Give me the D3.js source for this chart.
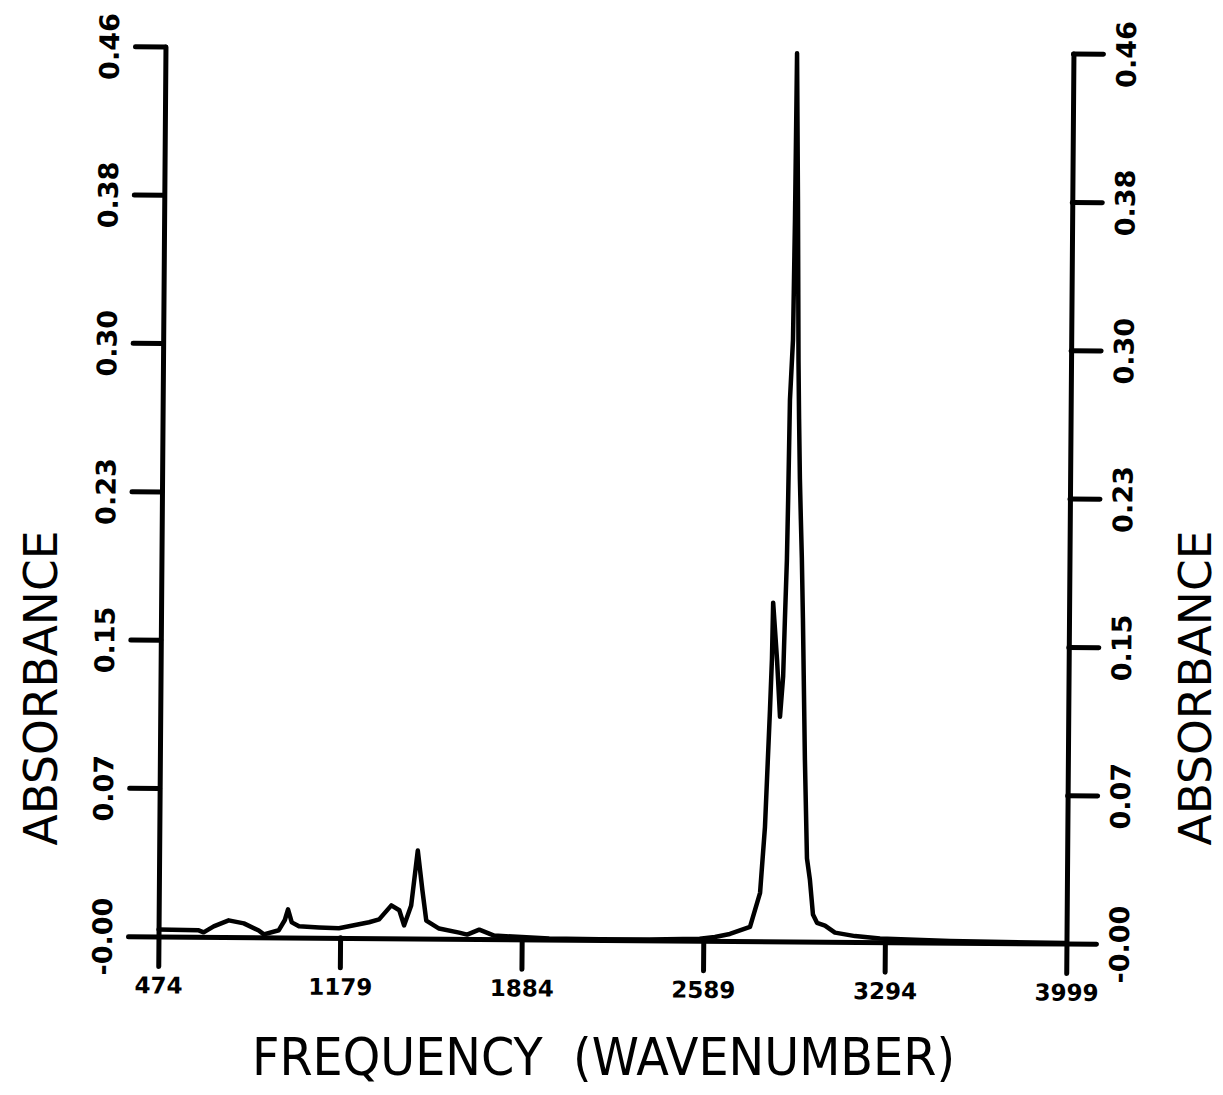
<!DOCTYPE html>
<html>
<head>
<meta charset="utf-8">
<script src="https://cdn.jsdelivr.net/npm/d3@7"></script>
<style>
body { margin: 0; background: #fff; }
text { font-family: "DejaVu Sans", sans-serif; fill: #000; }
</style>
</head>
<body>
<div id="spectrum"></div>
<script>
// spectrum
const wavenumber = [474, 630, 649, 688, 746, 805, 863, 883, 941, 964, 976, 991, 1019, 1097, 1174, 1213,
  1291, 1330, 1377, 1408, 1427, 1454, 1478, 1497, 1513, 1563, 1641, 1672, 1719, 1777, 1991, 2186,
  2380, 2575, 2634, 2692, 2770, 2808, 2825, 2841, 2847, 2850, 2867, 2880, 2891, 2896, 2902, 2905,
  2909, 2919, 2923, 2926, 2934, 2941, 2945, 2950, 2955, 2960, 2966, 2978, 2989, 3001, 3014, 3030,
  3061, 3100, 3178, 3275, 3547, 3999];
const absorbance = [0.0036, 0.0033, 0.0023, 0.0054, 0.0086, 0.0071, 0.0035, 0.0015, 0.0037, 0.009, 0.0145, 0.0078, 0.0058, 0.0053, 0.005, 0.006,
  0.0082, 0.0097, 0.017, 0.0145, 0.0067, 0.017, 0.0455, 0.025, 0.0093, 0.0052, 0.0032, 0.0022, 0.0048, 0.0018, 0.0005, 0.0003,
  0.0004, 0.001, 0.002, 0.0036, 0.0073, 0.025, 0.059, 0.120, 0.146, 0.175, 0.145, 0.116, 0.137, 0.166, 0.197, 0.228,
  0.280, 0.311, 0.373, 0.459, 0.383, 0.300, 0.270, 0.239, 0.218, 0.198, 0.167, 0.094, 0.043, 0.032, 0.014, 0.0097,
  0.0083, 0.0047, 0.003, 0.0018, 0.0008, 0.0003];

const xTicks = [474, 1179, 1884, 2589, 3294, 3999];
const yTicks = [0, 0.0767, 0.1533, 0.23, 0.3067, 0.3833, 0.46];
const yTickLabels = ["-0.00", "0.07", "0.15", "0.23", "0.30", "0.38", "0.46"];

const margin = {top: 50, right: 153, bottom: 155, left: 162},
    width = 1223 - margin.left - margin.right,
    height = 1095 - margin.top - margin.bottom;

const svg = d3.select("#spectrum")
  .append("svg")
    .attr("width", 1223)
    .attr("height", 1095);

// the scanned plot sits slightly tilted
const g = svg.append("g")
    .attr("transform", `rotate(0.45, 615, 492) translate(${margin.left},${margin.top})`);

const x = d3.scaleLinear().domain([474, 3999]).range([0, width]);
const y = d3.scaleLinear().domain([0, 0.46]).range([height, 0]);

function styleAxis(sel) {
  sel.select(".domain").attr("stroke-width", 5).attr("stroke-linecap", "round");
  sel.selectAll(".tick line").attr("stroke-width", 5).attr("stroke-linecap", "round");
  sel.selectAll(".tick text")
    .style("font-size", "27px")
    .style("font-weight", "bold")
    .attr("fill", "#000");
}

// bottom axis
const xAxis = g.append("g")
    .attr("transform", `translate(0,${height})`)
    .call(d3.axisBottom(x).tickValues(xTicks).tickSize(30).tickSizeOuter(0).tickFormat(d3.format("d")));
styleAxis(xAxis);
xAxis.selectAll(".tick text")
    .style("font-size", "23px")
    .attr("y", 49)
    .attr("dy", "0.35em");

// left axis
const yLeft = g.append("g")
    .call(d3.axisLeft(y).tickValues(yTicks).tickSize(30).tickSizeOuter(0).tickFormat((d, i) => yTickLabels[i]));
styleAxis(yLeft);
yLeft.selectAll(".tick text")
    .attr("transform", "rotate(-90)")
    .attr("x", 0)
    .attr("y", -56)
    .attr("dy", "0.35em")
    .attr("text-anchor", "middle");

// right axis
const yRight = g.append("g")
    .attr("transform", `translate(${width},0)`)
    .call(d3.axisRight(y).tickValues(yTicks).tickSize(30).tickSizeOuter(0).tickFormat((d, i) => yTickLabels[i]));
styleAxis(yRight);
yRight.selectAll(".tick text")
    .attr("transform", "rotate(-90)")
    .attr("x", 0)
    .attr("y", 53)
    .attr("dy", "0.35em")
    .attr("text-anchor", "middle");

// the spectrum
g.append("path")
    .datum(d3.zip(wavenumber, absorbance))
    .attr("fill", "none")
    .attr("stroke", "#000")
    .attr("stroke-width", 4.5)
    .attr("stroke-linejoin", "round")
    .attr("stroke-linecap", "round")
    .attr("d", d3.line()
      .x(function(d) { return x(d[0]) })
      .y(function(d) { return y(d[1]) })
    );

// titles
svg.append("text")
    .attr("x", 252)
    .attr("y", 1075)
    .attr("textLength", 703)
    .attr("lengthAdjust", "spacingAndGlyphs")
    .style("font-size", "52px")
    .style("white-space", "pre")
    .text("FREQUENCY  (WAVENUMBER)");

[[57, 46], [1211, 44]].forEach(function(p) {
  svg.append("text")
      .attr("transform", `translate(${p[0]},688) rotate(-90)`)
      .attr("text-anchor", "middle")
      .attr("textLength", 315)
      .attr("lengthAdjust", "spacingAndGlyphs")
      .style("font-size", p[1] + "px")
      .text("ABSORBANCE");
});
</script>
</body>
</html>
